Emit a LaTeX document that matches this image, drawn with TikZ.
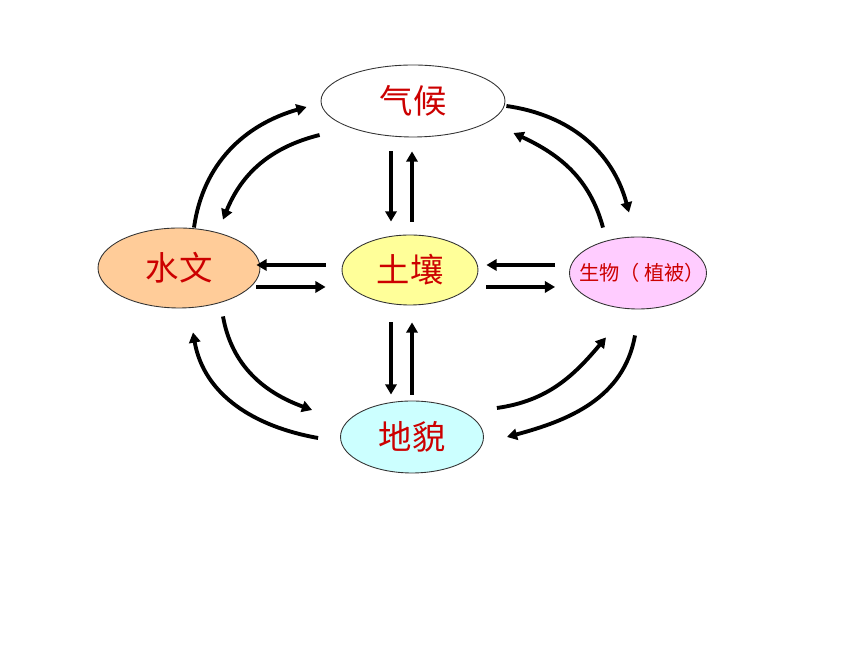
\documentclass[tikz,border=0pt]{standalone}
\usepackage{fontspec}
\newfontfamily\cjk{Noto Sans CJK SC}
\usetikzlibrary{shapes.geometric,arrows.meta,calc}
\definecolor{txtred}{RGB}{204,0,0}
\begin{document}
\begin{tikzpicture}[x=0.02cm, y=0.02cm,
  blob/.style={ellipse, draw=black!80, line width=0.5pt, inner sep=0pt, text=txtred},
  big/.style={font=\cjk\fontsize{19}{20}\selectfont},
  arr/.style={-{Triangle[length=5.8pt,width=6.4pt]}, line width=2.2pt}]
\useasboundingbox (0,0) rectangle (860,645);

% Nodes.
\node[blob, big, minimum width=3.68cm, minimum height=1.44cm] (qh) at (413,544) {气候};
\node[blob, big, fill={rgb,255:red,255;green,204;blue,153}, minimum width=3.24cm, minimum height=1.6cm] (sw) at (179,377) {水文};
\node[blob, big, fill={rgb,255:red,255;green,255;blue,153}, minimum width=2.72cm, minimum height=1.4cm] (tr) at (410,375) {土壤};
\node[blob, fill={rgb,255:red,255;green,204;blue,255}, minimum width=2.74cm, minimum height=1.44cm] (sc) at (638,372) {};
\node[text=txtred, font=\cjk\fontsize{11.5}{12}\selectfont] (sclabel) at (642,372) {生物（ 植被）};
\node[blob, big, fill={rgb,255:red,204;green,255;blue,255}, minimum width=2.86cm, minimum height=1.44cm] (dm) at (412,208) {地貌};

% 气候 and 水文.
\draw[arr] ($(sw.north)+(15,0)$) to[out=82, in=196] ($(qh.west)+(-14,-6)$);
\draw[arr] ($(qh.west)+(-1,-34)$) to[out=194, in=68] ($(sw.north)+(44,8)$);

% 气候 and 土壤.
\draw[arr] ($(qh.south)+(-22,-14)$) -- ($(tr.north)+(-19,13)$);
\draw[arr] ($(tr.north)+(2,13)$) -- ($(qh.south)+(-1,-14)$);

% 气候 and 生物.
\draw[arr] ($(qh.east)+(1,-5)$) to[out=-8, in=105] ($(sc.north)+(-9,24)$);
\draw[arr] ($(sc.north)+(-35,9)$) to[out=105, in=-25] ($(qh.east)+(8,-32)$);

% 土壤 and 水文.
\draw[arr] ($(tr.west)+(-16,5)$) -- ($(sw.east)+(-4,3)$);
\draw[arr] ($(sw.east)+(-4,-19)$) -- ($(tr.west)+(-16,-17)$);

% 土壤 and 生物.
\draw[arr] ($(sc.west)+(-14,8)$) -- ($(tr.east)+(8,5)$);
\draw[arr] ($(tr.east)+(8,-17)$) -- ($(sc.west)+(-14,-14)$);

% 土壤 and 地貌.
\draw[arr] ($(tr.south)+(-19,-17)$) -- ($(dm.north)+(-21,6)$);
\draw[arr] ($(dm.north)+(0,6)$) -- ($(tr.south)+(2,-17)$);

% 地貌 and 水文.
\draw[arr] ($(dm.west)+(-22,-1)$) to[out=170, in=-80] ($(sw.south)+(14,-24)$);
\draw[arr] ($(sw.south)+(44,-8)$) to[out=-80, in=160] ($(dm.west)+(-28,27)$);

% 地貌 and 生物.
\draw[arr] ($(dm.east)+(13,29)$) to[out=8, in=230] ($(sc.south)+(-32,-28)$);
\draw[arr] ($(sc.south)+(-3,-26)$) to[out=-100, in=15] ($(dm.east)+(23,0)$);
\end{tikzpicture}
\end{document}
